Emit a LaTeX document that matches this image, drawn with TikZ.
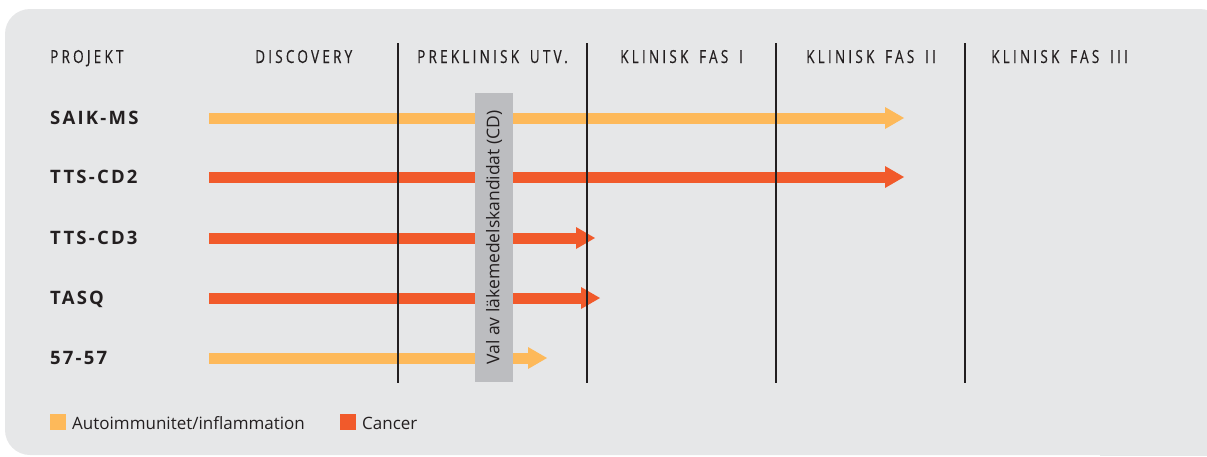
\documentclass[tikz,border=0pt]{standalone}
\usepackage{fontspec}
\setmainfont{Open Sans}
\newfontfamily\hdrfont[FakeStretch=0.75,LetterSpace=18,FakeBold=0.3,WordSpace=1.6]{Open Sans}
\newfontfamily\lblfont[LetterSpace=12]{Open Sans Bold}
\usetikzlibrary{arrows.meta}
\definecolor{bgc}{HTML}{E6E7E8}
\definecolor{yel}{HTML}{FDB95A}
\definecolor{org}{HTML}{F15A2B}
\definecolor{cdg}{HTML}{BCBDC0}
\definecolor{ink}{HTML}{231F20}
\tikzset{
  hdr/.style={anchor=base west, inner sep=0pt, text=ink, font=\hdrfont\fontsize{18}{21}\selectfont},
  lbl/.style={anchor=base west, inner sep=0pt, text=ink, font=\lblfont\fontsize{18.5}{22}\selectfont},
  leg/.style={anchor=base west, inner sep=0pt, text=ink, font=\fontsize{17}{20}\selectfont},
  bar/.style={line width=11pt, draw=#1, -{Triangle[length=19pt 0 0, width=22pt 0 0, line width=0pt 0 0, fill=#1]}},
  phase/.style={line width=1.7pt, draw=ink},
  sq/.style={fill=#1, inner sep=0pt, minimum size=16pt},
}
\begin{document}
\begin{tikzpicture}[x=1pt,y=-1pt]
\useasboundingbox (0,0) rectangle (1207,456);
\fill[bgc, rounded corners=25pt] (5,9) rectangle (1225,455);
\fill[bgc] (1100,300) rectangle (1207,456);
% headers
\node[hdr] (h0) at (50,63) {PROJEKT};
\node[hdr] (h1) at (255,63) {DISCOVERY};
\node[hdr] (h2) at (417,63) {PREKLINISK UTV.};
\node[hdr] (h3) at (620,63) {KLINISK FAS I};
\node[hdr] (h4) at (806,63) {KLINISK FAS II};
\node[hdr] (h5) at (991,63) {KLINISK FAS III};
% row labels
\node[lbl] (r1) at (50,124.5) {SAIK-MS};
\node[lbl] (r2) at (50,183.5) {TTS-CD2};
\node[lbl] (r3) at (50,244.5) {TTS-CD3};
\node[lbl] (r4) at (50,304.5) {TASQ};
\node[lbl] (r5) at (50,364.5) {57-57};
% arrows
\coordinate (s1) at (209,118); \coordinate (e1) at (904,118);
\coordinate (s2) at (209,177); \coordinate (e2) at (904,177);
\coordinate (s3) at (209,238); \coordinate (e3) at (595,238);
\coordinate (s4) at (209,298); \coordinate (e4) at (600,298);
\coordinate (s5) at (209,358); \coordinate (e5) at (547,358);
\draw[bar=yel] (s1) -- (e1);
\draw[bar=org] (s2) -- (e2);
\draw[bar=org] (s3) -- (e3);
\draw[bar=org] (s4) -- (e4);
\draw[bar=yel] (s5) -- (e5);
% phase lines
\coordinate (t1) at (398,43); \coordinate (b1) at (398,383);
\coordinate (t2) at (587,43); \coordinate (b2) at (587,383);
\coordinate (t3) at (776,43); \coordinate (b3) at (776,383);
\coordinate (t4) at (965,43); \coordinate (b4) at (965,383);
\draw[phase] (t1) -- (b1);
\draw[phase] (t2) -- (b2);
\draw[phase] (t3) -- (b3);
\draw[phase] (t4) -- (b4);
% candidate bar
\node[fill=cdg, minimum width=289pt, minimum height=38pt, inner sep=0pt, rotate=90, text=ink, font=\fontsize{17.5}{20}\selectfont] (cd) at (494,237.5) {Val av läkemedelskandidat (CD)};
% legend
\node[sq=yel] (ly) at (58,422) {};
\node[leg] (lyt) at (72,429) {Autoimmunitet/inflammation};
\node[sq=org] (lo) at (348,422) {};
\node[leg] (lot) at (362,429) {Cancer};
\end{tikzpicture}
\end{document}
